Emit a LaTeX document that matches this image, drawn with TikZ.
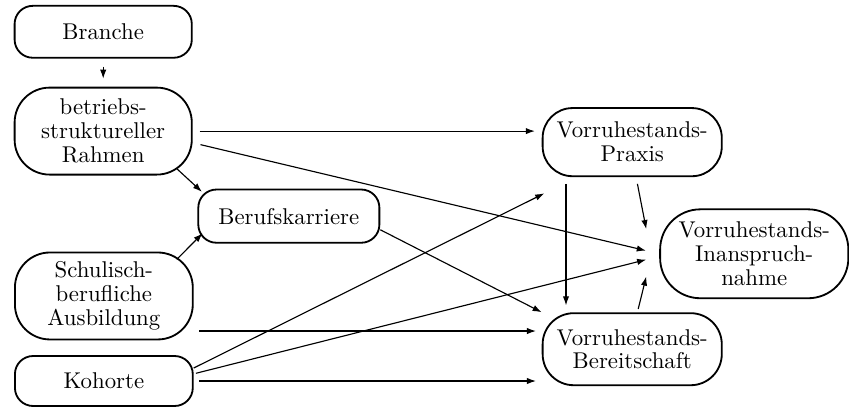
\documentclass[tikz,border=0pt]{standalone}
\usepackage{tikz}
\usetikzlibrary{arrows.meta,positioning,calc}

\begin{document}
\begin{tikzpicture}[
    box/.style={rectangle, draw, line width=0.8pt, align=center, inner sep=2pt,
        font=\fontsize{10}{10.5}\selectfont},
    arrow/.style={-{Latex[length=4pt,width=2.8pt]}, line width=0.5pt},
    gap/.style={shorten <=#1, shorten >=#1},
    gap/.default=3pt
]
    \useasboundingbox (0,0) rectangle (13.08,6.27);

    % Branche
    \node[box, rounded corners=0.28cm, minimum width=2.73cm, minimum height=0.8cm] (branche) at (1.59,5.78) {Branche};

    % Betrieb
    \node[box, rounded corners=0.54cm, minimum width=2.73cm, minimum height=1.34cm] (rahmen) at (1.59,4.25) {betriebs-\\struktureller\\Rahmen};

    % Karriere
    \node[box, rounded corners=0.28cm, minimum width=2.79cm, minimum height=0.82cm] (beruf) at (4.45,2.94) {Berufskarriere};

    % Ausbildung
    \node[box, rounded corners=0.54cm, minimum width=2.74cm, minimum height=1.34cm] (schul) at (1.60,1.71) {Schulisch-\\berufliche\\Ausbildung};

    % Kohorte
    \node[box, rounded corners=0.28cm, minimum width=2.74cm, minimum height=0.77cm] (kohorte) at (1.60,0.40) {Kohorte};

    % Praxis
    \node[box, rounded corners=0.46cm, minimum width=2.76cm, minimum height=1.05cm] (praxis) at (9.74,4.08) {Vorruhestands-\\Praxis};

    % Inanspruchnahme
    \node[box, rounded corners=0.62cm, minimum width=2.90cm, minimum height=1.37cm] (inan) at (11.62,2.36) {Vorruhestands-\\Inanspruch-\\nahme};

    % Bereitschaft
    \node[box, rounded corners=0.48cm, minimum width=2.76cm, minimum height=1.11cm] (bereit) at (9.74,0.89) {Vorruhestands-\\Bereitschaft};

    % Helper points
    \coordinate (schulout) at ([yshift=-0.54cm]schul.east);
    \coordinate (praxisout) at ([xshift=-1.02cm]praxis.south);

    % Arrows
    \draw[arrow, gap=3.5pt] (branche) -- (rahmen);
    \draw[arrow, gap=3pt] (rahmen.east) -- (rahmen.east -| praxis.west);
    \draw[arrow, shorten <=3.5pt, shorten >=6pt] ([yshift=-0.18cm]rahmen.east) -- (inan.west);
    \draw[arrow] ([shift={(-0.24,0.10)}]rahmen.south east) -- ([shift={(0.07,-0.05)}]beruf.north west);
    \draw[arrow] ([shift={(-0.26,-0.12)}]schul.north east) -- ([shift={(0.08,0.16)}]beruf.south west);
    \draw[arrow] ([yshift=-0.21cm]beruf.east) -- (bereit.north west);
    \draw[arrow, gap=2.5pt] (schulout) -- (schulout -| bereit.west);
    \draw[arrow] ([yshift=0.2cm]kohorte.east) -- ([shift={(0.04,-0.25)}]praxis.south west);
    \draw[arrow, shorten <=1pt] ([yshift=0.11cm]kohorte.east) -- ([shift={(-0.2,-0.09)}]inan.west);
    \draw[arrow, gap=2.5pt] (kohorte.east) -- (kohorte.east -| bereit.west);
    \draw[arrow, gap=3pt] (praxisout) -- (praxisout |- bereit.north);
    \draw[arrow, shorten <=3pt] ([xshift=0.06cm]praxis.south) -- ([shift={(-0.2,0.38)}]inan.west);
    \draw[arrow, shorten <=1.5pt] ([xshift=0.08cm]bereit.north) -- ([shift={(-0.2,-0.35)}]inan.west);

\end{tikzpicture}
\end{document}
